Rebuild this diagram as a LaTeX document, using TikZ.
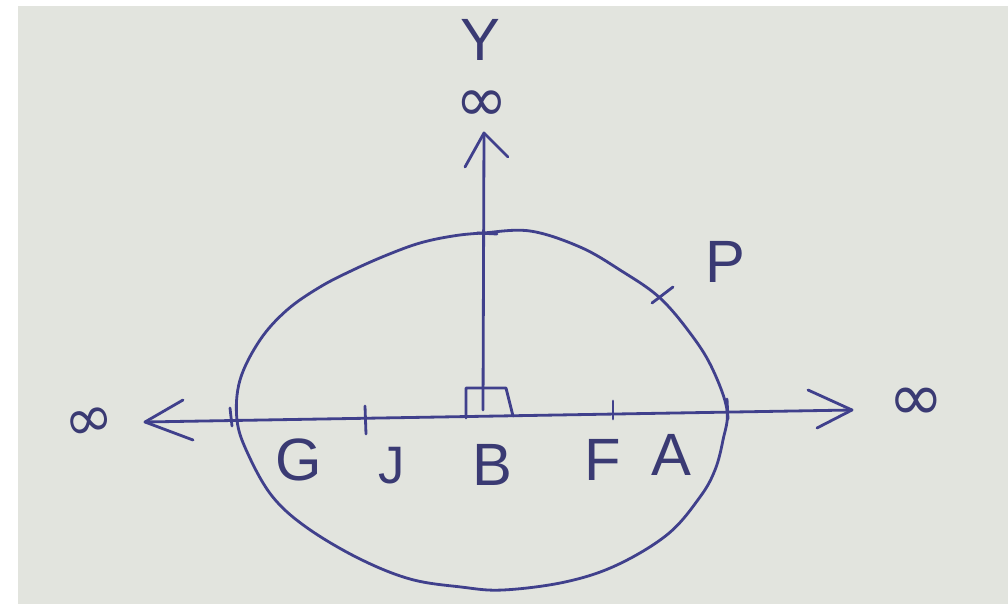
\documentclass[tikz,border=0pt]{standalone}
\usepackage{fontspec}
\setmainfont{Liberation Sans}
\newfontfamily\symfont{DejaVu Sans}
\definecolor{ink}{RGB}{64,64,140}
\definecolor{textink}{RGB}{58,58,115}
\definecolor{paper}{RGB}{226,228,222}
\begin{document}
\begin{tikzpicture}[x=0.02cm,y=-0.02cm,
  inkline/.style={draw=ink, line width=1.6pt, line cap=round, line join=round},
  lbl/.style={text=textink, font=\fontsize{34}{38}\selectfont, inner sep=0pt},
  inf/.style={text=textink, font=\symfont\fontsize{38}{40}\selectfont, inner sep=0pt}]
\useasboundingbox (0,0) rectangle (1008,615);
\fill[white] (0,0) rectangle (1008,615);
\fill[paper] (18,6) rectangle (1008,604);
% closed curve
\draw[inkline] plot[smooth cycle, tension=0.6] coordinates {
 (483,233) (530,231) (580,247) (620,270) (660,298) (693,337) (713,370)
 (727,410) (723,440) (715,470) (700,497) (668,534) (617,565) (565,582)
 (503,590) (461,587) (410,579) (358,558) (306,527) (272,496) (248,454)
 (237,420) (240,380) (260,340) (287,310) (320,287) (353,270) (387,255)
 (420,243) (453,236)};
% axes
\coordinate (HL) at (145,422);
\coordinate (HR) at (852,410);
\coordinate (VB) at (483,410);
\coordinate (VT) at (484,133);
\draw[inkline] (HL) -- (HR);
\draw[inkline] (183,400) -- (HL) -- (193,440);
\draw[inkline] (808,390) -- (HR) -- (817,428);
\draw[inkline] (VB) -- (VT);
\draw[inkline] (465,167) -- (VT) -- (508,157);
% right-angle box
\draw[inkline] (466,418) -- (466,388) -- (506,388) -- (513,416);
% ticks
\draw[inkline] (230,408) -- (232,426);
\draw[inkline] (365,406) -- (366,434);
\draw[inkline] (613,401) -- (613,419);
\draw[inkline] (727,399) -- (728,419);
\draw[inkline] (477,233) -- (497,234);
\draw[inkline] (652,303) -- (673,287);
% labels
\node[lbl] (ylab) at (480,40) {Y};
\node[inf, font=\symfont\fontsize{36}{38}\selectfont] (inftop) at (482,106) {∞};
\node[inf, font=\symfont\fontsize{34}{36}\selectfont, rotate=12] (infleft) at (90,424) {∞};
\node[inf] (infright) at (916,404) {∞};
\node[lbl] (G) at (299,460) {G};
\node[lbl, font=\fontsize{30}{34}\selectfont] (J) at (392,466) {J};
\node[lbl] (B) at (492,465) {B};
\node[lbl] (F) at (603,460) {F};
\node[lbl] (A) at (671,455) {A};
\node[lbl] (P) at (725,262) {P};
\end{tikzpicture}
\end{document}
